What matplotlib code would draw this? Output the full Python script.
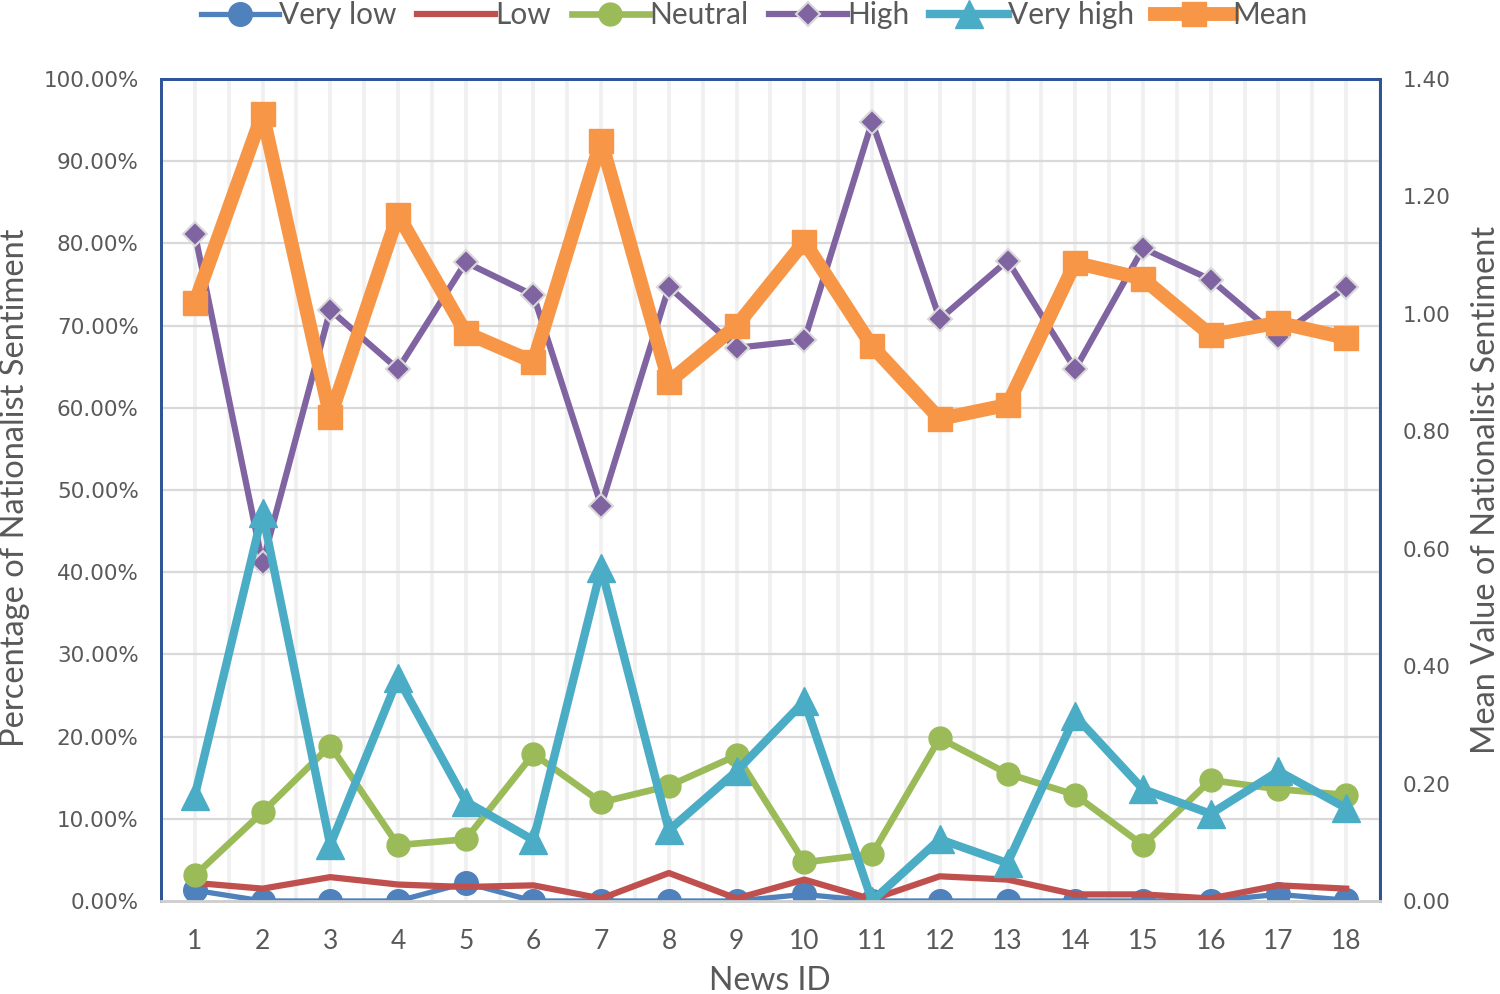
import matplotlib
matplotlib.use("Agg")
import matplotlib.pyplot as plt
from matplotlib.ticker import FuncFormatter
import numpy as np

news_id = list(range(1, 19))
very_low = [1.3, 0.0, 0.0, 0.0, 2.2, 0.0, 0.0, 0.0, 0.0, 0.8, 0.0, 0.0, 0.0, 0.0, 0.0, 0.0, 0.8, 0.1]
low = [2.2, 1.5, 2.9, 2.0, 1.7, 1.9, 0.3, 3.4, 0.3, 2.6, 0.2, 3.0, 2.6, 0.8, 0.8, 0.3, 1.9, 1.5]
neutral = [3.1, 10.8, 18.9, 6.8, 7.5, 17.9, 12.0, 14.0, 17.7, 4.7, 5.7, 19.8, 15.5, 12.9, 6.8, 14.7, 13.6, 12.9]
high = [81.2, 41.1, 71.9, 64.7, 77.7, 73.7, 48.1, 74.7, 67.3, 68.2, 94.8, 70.8, 77.9, 64.7, 79.4, 75.6, 68.6, 74.7]
very_high = [12.8, 47.2, 6.8, 27.1, 12.1, 7.4, 40.5, 8.6, 15.8, 24.3, 0.0, 7.5, 4.6, 22.5, 13.6, 10.6, 15.8, 11.3]
mean = [1.019, 1.341, 0.825, 1.169, 0.968, 0.918, 1.295, 0.884, 0.980, 1.123, 0.945, 0.821, 0.845, 1.087, 1.060, 0.964, 0.985, 0.959]

left_ticks = [0, 10, 20, 30, 40, 50, 60, 70, 80, 90, 100]
right_ticks = [0.0, 0.2, 0.4, 0.6, 0.8, 1.0, 1.2, 1.4]

TXT = "#595959"
SPINE = "#2F5597"
W, H = 1500, 994
fig = plt.figure(figsize=(15, 9.94), dpi=100)
ax = fig.add_axes([0.1073, 0.0936, 0.8127, 0.8269])
ax2 = ax.twinx()

# grid
for xv in np.arange(1.0, 18.51, 0.5):
    ax.axvline(xv, color="#F0F0F0", lw=2.6, zorder=0)
for yv in left_ticks[1:]:
    ax.axhline(yv, color="#D9D9D9", lw=1.6, zorder=0.5)

l1, = ax.plot(news_id, very_low, color="#4F81BD", lw=3.8, marker="o", ms=17, label="Very low", zorder=3)
l2, = ax.plot(news_id, low, color="#C0504D", lw=4.5, label="Low", zorder=4)
l3, = ax.plot(news_id, neutral, color="#9BBB59", lw=4.8, marker="o", ms=16.5, label="Neutral", zorder=5)
l4, = ax.plot(news_id, high, color="#8064A2", lw=4.5, marker="D", ms=12.5, mec="#D9D9D9", mew=1.5, label="High", zorder=6)
l5, = ax.plot(news_id, very_high, color="#4BACC6", lw=6, marker="^", ms=20, label="Very high", zorder=7)
l6, = ax2.plot(news_id, mean, color="#F79646", lw=10, marker="s", ms=17, label="Mean", zorder=8)

ax.set_xlim(0.5, 18.5)
ax.set_ylim(0, 100)
ax2.set_ylim(0, 1.4)
ax.set_xticks(news_id)
ax.set_yticks(left_ticks)
ax2.set_yticks(right_ticks)
ax.yaxis.set_major_formatter(FuncFormatter(lambda v, p: f"{v:.2f}%"))
ax2.yaxis.set_major_formatter(FuncFormatter(lambda v, p: f"{v:.2f}"))

for a in (ax, ax2):
    a.tick_params(length=0, colors=TXT)
    for s in ("left", "right", "top"):
        a.spines[s].set_color(SPINE)
        a.spines[s].set_linewidth(2)
    a.spines["bottom"].set_color("#D0D0D0")
    a.spines["bottom"].set_linewidth(2)
    a.set_facecolor("none")

ax.tick_params(axis="y", labelsize=15.5, pad=16)
ax2.tick_params(axis="y", labelsize=15.5, pad=16)
for t in ax.get_yticklabels() + ax2.get_yticklabels():
    t.set_family("DejaVu Sans")
ax.tick_params(axis="x", labelsize=19, pad=20)
for t in ax.get_xticklabels():
    t.set_family("Lato")

fig.text(770 / W, 1 - 981 / H, "News ID", fontsize=23, color=TXT, family="Lato", ha="center", va="center")
fig.text(15 / W, 1 - 488 / H, "Percentage of Nationalist Sentiment", fontsize=23.5, color=TXT,
         family="Lato", rotation=90, ha="center", va="center")
fig.text(1486 / W, 1 - 490 / H, "Mean Value of Nationalist Sentiment", fontsize=23.5, color=TXT,
         family="Lato", rotation=90, ha="center", va="center")

leg = fig.legend(handles=[l1, l2, l3, l4, l5, l6], loc="center", bbox_to_anchor=(0.503, 1 - 15 / H),
                 ncol=6, frameon=False, handlelength=2.6, columnspacing=0.7,
                 handletextpad=0.0, prop={"family": "Lato", "size": 21.5})
for t in leg.get_texts():
    t.set_color(TXT)

ax2.set_zorder(ax.get_zorder() + 1)

fig.savefig("out.png", dpi=100, facecolor="white")
